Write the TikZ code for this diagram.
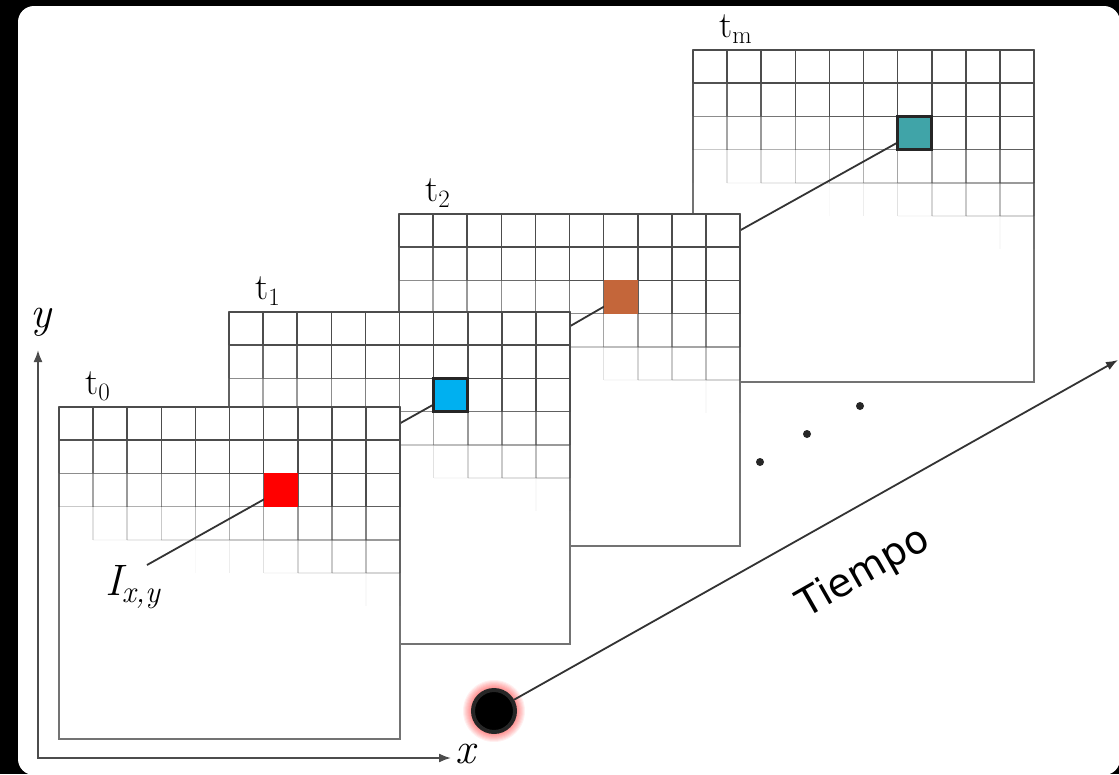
\documentclass[tikz,border=0pt]{standalone}
\usepackage{amsmath, amssymb}
\usepackage{fontspec}
\usetikzlibrary{arrows.meta}
\newfontfamily\tiempofont{DejaVu Sans}
\definecolor{pixred}{HTML}{FF0000}
\definecolor{pixblue}{HTML}{00B0F0}
\definecolor{pixorange}{HTML}{C4663A}
\definecolor{pixteal}{HTML}{40A4A8}

\begin{document}
\begin{tikzpicture}[x=1pt, y=-1pt,
                    gridline/.style={color=black!70, line width=1.6pt},
                    frameedge/.style={draw=black!55, fill=white, line width=1.6pt},
                    pixel/.style={minimum width=34.1pt, minimum height=33.2pt, inner sep=0pt, line width=3pt},
                    link/.style={color=black!80, line width=1.8pt},
                    stamp/.style={anchor=base west, inner sep=0pt, font=\fontsize{37}{40}\selectfont},
                    bigmath/.style={inner sep=0pt, font=\fontsize{44}{50}\selectfont\itshape}]
                    \useasboundingbox (0,0) rectangle (1119,774);
                    \fill[black] (0,0) rectangle (1119,774);
                    \fill[white, rounded corners=16pt] (18,6) rectangle (1120,775);
                    \foreach \n/\fx/\fy in {0/59/407, 1/229/312, 2/399/214, m/693/50}
                    \coordinate (sq\n) at (\fx+221.65, \fy+83);
                    \coordinate (lead) at (147,565);
                    \foreach \n/\fx/\fy/\prev/\col/\edge in {m/693/50/sq2/pixteal/black!85, 2/399/214/sq1/pixorange/none, 1/229/312/sq0/pixblue/black!85, 0/59/407/lead/pixred/none}
                    {
                    \begin{scope}[shift={(\fx,\fy)}]
                    \filldraw[frameedge] (0,0) rectangle (341,332);
                    \foreach \i in {0,...,9}
                    \foreach \j in {0,...,9}
                    {
                    \pgfmathsetmacro\oph{max(0,min(1,(3.8-\j+0.2*(\i+0.5))/3))}
                    \draw[gridline, draw opacity=\oph] (\i*34.1,\j*33.2) -- (\i*34.1+34.1,\j*33.2);
                    }
                    \foreach \i in {0,...,10}
                    \foreach \j in {0,...,9}
                    {
                    \pgfmathsetmacro\opv{max(0,min(1,(3.8-\j-0.5+0.2*\i)/3))}
                    \draw[gridline, draw opacity=\opv] (\i*34.1,\j*33.2) -- (\i*34.1,\j*33.2+33.2);
                    }
                    \node[stamp] (t\n) at (26,-13) {t\raisebox{-6pt}{\fontsize{25}{28}\selectfont\n}};
                    \end{scope}
                    \draw[link] (\prev) -- (sq\n);
                    \node[pixel, fill=\col, draw=\edge] (px\n) at (sq\n) {};
                    }
                    \node[bigmath, anchor=base west] (Ixy) at (105,595) {I\raisebox{-7pt}{\fontsize{31}{34}\selectfont x,y}};
                    \foreach \x/\y in {760/462, 807/434, 860/406}
                    \fill[black!85] (\x,\y) circle (4pt);
                    \coordinate (orig) at (38,758);
                    \coordinate (ytip) at (38,350);
                    \coordinate (xtip) at (451,758);
                    \draw[link, color=black!70, {Latex[length=12pt,width=9pt]}-{Latex[length=12pt,width=9pt]}] (ytip) -- (orig) -- (xtip);
                    \node[bigmath] (ylab) at (41,322) {y};
                    \node[bigmath] (xlab) at (465,754) {x};
                    \foreach \r in {24,...,31}
                    \fill[red, opacity=0.06] (494,711) circle (\r pt);
                    \node[circle, minimum size=42pt, inner sep=0pt, fill=black, draw=black!85, line width=4pt] (now) at (494,711) {};
                    \coordinate (tend) at (1118,360);
                    \draw[link, -{Latex[length=12pt,width=9pt]}] (now) -- (tend);
                    \node[rotate=29.7, font=\tiempofont\fontsize{39}{44}\selectfont] (tiempo) at (864,573) {Tiempo};
                \end{tikzpicture}
\end{document}
